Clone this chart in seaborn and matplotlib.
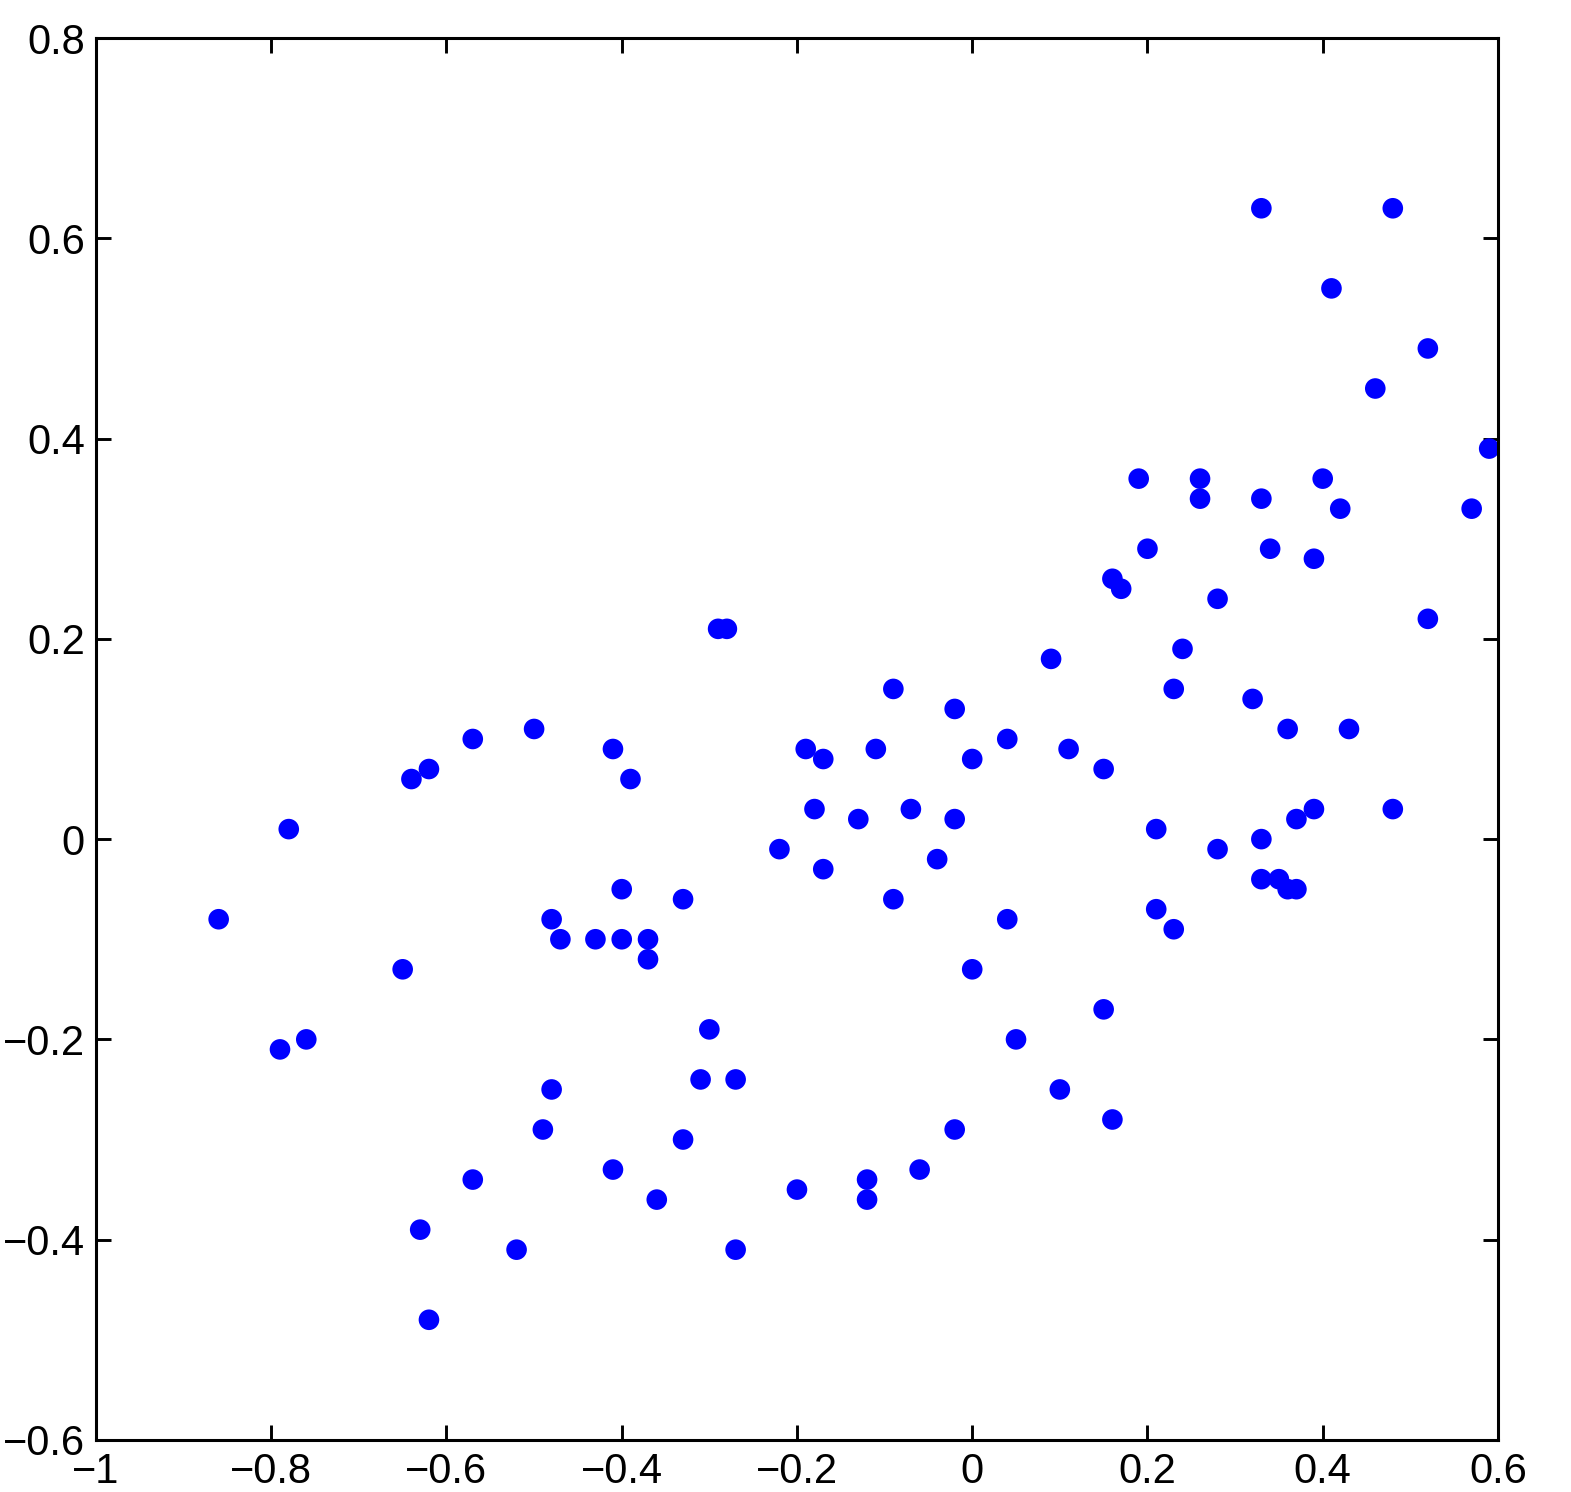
import matplotlib
matplotlib.use("Agg")
import matplotlib.pyplot as plt
import pandas as pd
import seaborn as sns

X_VALUES = [
    0.33, 0.48, 0.41, 0.52, 0.46, 0.59, 0.19, 0.26, 0.40, 0.26,
    0.33, 0.42, 0.57, 0.20, 0.34, 0.39, 0.16, 0.17, 0.28, -0.29,
    -0.28, 0.52, 0.24, 0.09, -0.09, 0.23, 0.32, -0.02, -0.50, 0.36,
    0.43, -0.57, 0.04, -0.41, -0.19, -0.11, 0.11, -0.17, 0.00, -0.62,
    0.15, -0.64, -0.39, -0.18, -0.07, 0.39, 0.48, -0.13, -0.02, 0.37,
    -0.78, 0.21, 0.33, -0.22, 0.28, -0.04, -0.17, 0.33, 0.35, 0.36,
    0.37, -0.40, -0.33, -0.09, 0.21, -0.86, -0.48, 0.04, 0.23, -0.47,
    -0.43, -0.40, -0.37, -0.37, -0.65, 0.00, 0.15, -0.30, -0.76, 0.05,
    -0.79, -0.31, -0.27, -0.48, 0.10, 0.16, -0.49, -0.02, -0.33, -0.06,
    -0.41, -0.57, -0.12, -0.20, -0.36, -0.12, -0.63, -0.52, -0.27, -0.62,
]
Y_VALUES = [
    0.63, 0.63, 0.55, 0.49, 0.45, 0.39, 0.36, 0.36, 0.36, 0.34,
    0.34, 0.33, 0.33, 0.29, 0.29, 0.28, 0.26, 0.25, 0.24, 0.21,
    0.21, 0.22, 0.19, 0.18, 0.15, 0.15, 0.14, 0.13, 0.11, 0.11,
    0.11, 0.10, 0.10, 0.09, 0.09, 0.09, 0.09, 0.08, 0.08, 0.07,
    0.07, 0.06, 0.06, 0.03, 0.03, 0.03, 0.03, 0.02, 0.02, 0.02,
    0.01, 0.01, 0.00, -0.01, -0.01, -0.02, -0.03, -0.04, -0.04, -0.05,
    -0.05, -0.05, -0.06, -0.06, -0.07, -0.08, -0.08, -0.08, -0.09, -0.10,
    -0.10, -0.10, -0.10, -0.12, -0.13, -0.13, -0.17, -0.19, -0.20, -0.20,
    -0.21, -0.24, -0.24, -0.25, -0.25, -0.28, -0.29, -0.29, -0.30, -0.33,
    -0.33, -0.34, -0.34, -0.35, -0.36, -0.36, -0.39, -0.41, -0.41, -0.48,
]
X_TICKS = [-1, -0.8, -0.6, -0.4, -0.2, 0, 0.2, 0.4, 0.6]
X_TICK_LABELS = ["\u22121", "\u22120.8", "\u22120.6", "\u22120.4", "\u22120.2", "0", "0.2", "0.4", "0.6"]
Y_TICKS = [-0.6, -0.4, -0.2, 0, 0.2, 0.4, 0.6, 0.8]
Y_TICK_LABELS = ["\u22120.6", "\u22120.4", "\u22120.2", "0", "0.2", "0.4", "0.6", "0.8"]

sns.set_style("white")
plt.rcParams["font.family"] = ["Liberation Sans", "DejaVu Sans"]
plt.rcParams["font.size"] = 30


def main():
    df = pd.DataFrame({"x": X_VALUES, "y": Y_VALUES})

    fig = plt.figure(figsize=(15.71, 14.92), dpi=100)
    ax = fig.add_axes([0.0611, 0.0349, 0.8924, 0.9396])
    sns.scatterplot(data=df, x="x", y="y", ax=ax, color="#0000ff",
                    s=220, edgecolor="none", linewidth=0)

    ax.set_xlim(-1, 0.6)
    ax.set_ylim(-0.6, 0.8)
    ax.set_xticks(X_TICKS)
    ax.set_xticklabels(X_TICK_LABELS)
    ax.set_yticks(Y_TICKS)
    ax.set_yticklabels(Y_TICK_LABELS)
    ax.set_xlabel("")
    ax.set_ylabel("")
    ax.tick_params(direction="in", length=10.5, width=2.1, colors="black",
                   bottom=True, left=True, top=True, right=True,
                   labelsize=30, pad=8)
    ax.tick_params(axis="x", pad=9)
    for spine in ax.spines.values():
        spine.set_visible(True)
        spine.set_color("black")
        spine.set_linewidth(2.2)

    fig.savefig("out.png", dpi=100, facecolor="white")


if __name__ == "__main__":
    main()
